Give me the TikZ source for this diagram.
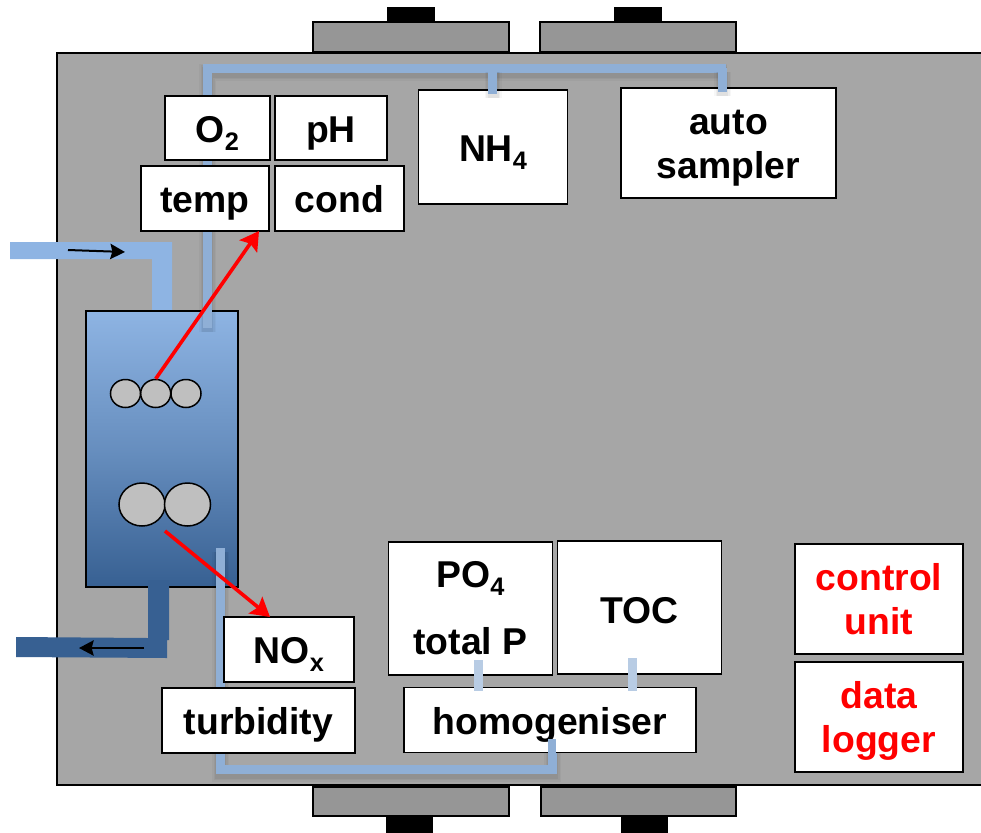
\documentclass[tikz,border=0pt]{standalone}
\usepackage{fontspec}
\setmainfont{Liberation Sans}
\usetikzlibrary{calc,arrows.meta,shapes.geometric}
\definecolor{rig}{HTML}{A6A6A6}
\definecolor{pump}{HTML}{969696}
\definecolor{bubble}{HTML}{BFBFBF}
\definecolor{inflow}{HTML}{8EB4E3}
\definecolor{outflow}{HTML}{376092}
\definecolor{tubing}{HTML}{8FAFD6}
\definecolor{feed}{HTML}{B8CCE4}
\def\px{0.75pt}
\newcommand\lowered[1]{\raisebox{-6pt}{\fontsize{19}{19}\selectfont #1}}
\tikzset{
	instrument/.style={draw=black,fill=white,line width=1.5*\px,inner sep=0pt,align=center,
		text height=25pt,text depth=4pt,font=\fontsize{28}{33}\selectfont\bfseries},
	twolines/.style={text height=57pt,text depth=4pt},
	plate/.style={draw=black,line width=1.5*\px},
	tube/.style={draw=tubing,line width=9*\px,
		preaction={draw=black,opacity=.03,line width=17*\px,transform canvas={shift={(.5pt,-3pt)}}},
		preaction={draw=black,opacity=.04,line width=14*\px,transform canvas={shift={(.5pt,-3pt)}}},
		preaction={draw=black,opacity=.05,line width=11*\px,transform canvas={shift={(.5pt,-3pt)}}}},
	flow/.style={-{Stealth[length=11pt,width=11.5pt,inset=1.5pt]},line width=1.5pt,black},
	probe/.style={-{Stealth[length=14pt,width=16pt,inset=2.5pt]},line width=2.7pt,red},
	bead/.style={draw=black,fill=bubble,line width=1.5*\px,ellipse,inner sep=0pt}
}
\begin{document}
\begin{tikzpicture}[x=0.75pt,y=-0.75pt]
	\useasboundingbox (0,0) rectangle (981,832);
	\filldraw[fill=rig,plate] (57,53) rectangle (990,785); % rig panel
	\filldraw[fill=black] (387,7) rectangle (434,22); % pump heads
	\filldraw[fill=black] (614,7) rectangle (661,22);
	\filldraw[fill=black] (386,816) rectangle (432,832);
	\filldraw[fill=black] (621,816) rectangle (667,832);
	\filldraw[fill=pump,plate] (313,22) rectangle (509,52);
	\filldraw[fill=pump,plate] (540,22) rectangle (736,52);
	\filldraw[fill=pump,plate] (313,787) rectangle (509,816);
	\filldraw[fill=pump,plate] (541,787) rectangle (736,816);
	% reactor with inlet and outlet
	\fill[inflow] (10,242) -- (172,242) -- (172,312) -- (152,312) -- (152,259) -- (10,259) -- cycle;
	\filldraw[plate,top color=inflow,bottom color=outflow,middle color=inflow!55!outflow] (86,311) rectangle (238,587);
	\fill[outflow] (148,580) -- (169,580) -- (169,640) -- (167,640) -- (167,658) -- (16,657) -- (16,637) -- (148,638) -- cycle;
	\coordinate (inStart) at (68,250);
	\coordinate (inEnd) at (125,252);
	\coordinate (outStart) at (144,648);
	\coordinate (outEnd) at (79,648);
	\draw[flow] (inStart) -- (inEnd);
	\draw[flow] (outStart) -- (outEnd);
	\node[bead,minimum width=30*\px,minimum height=28*\px] (beadA) at (125.5,393.5) {};
	\node[bead,minimum width=30*\px,minimum height=28*\px] (beadC) at (186,393.5) {};
	\node[bead,minimum width=30*\px,minimum height=28*\px] (beadB) at (155.7,393.5) {};
	\node[bead,minimum width=46*\px,minimum height=43*\px] (beadD) at (142,504.5) {};
	\node[bead,minimum width=46*\px,minimum height=43*\px] (beadE) at (187.5,504.5) {};
	% sample lines
	\coordinate (topEnd) at (207,328);
	\coordinate (topLeft) at (207,68);
	\coordinate (topRight) at (726,68);
	\coordinate (botEnd) at (220,548);
	\coordinate (botLeft) at (220,769);
	\coordinate (botRight) at (552,769);
	\draw[tube] (topEnd) -- (topLeft) -- (topRight);
	\draw[tube] (botEnd) -- (botLeft) -- (botRight) -- (552,739);
	% instruments
	\node[instrument,minimum width=105*\px,minimum height=64*\px] (oxy) at (217.5,128) {O\lowered{2}};
	\node[instrument,minimum width=112*\px,minimum height=64*\px] (ph) at (331,128) {pH};
	\node[instrument,minimum width=128*\px,minimum height=65*\px] (temp) at (205,198.5) {temp};
	\node[instrument,minimum width=129*\px,minimum height=65*\px] (cond) at (339.5,198.5) {cond};
	\node[instrument,minimum width=149*\px,minimum height=114*\px] (nh) at (493,147) {NH\lowered{4}};
	\node[instrument,twolines,minimum width=215*\px,minimum height=110*\px] (sampler) at (728.5,143) {auto\\sampler};
	\node[instrument,minimum width=130*\px,minimum height=65*\px] (nox) at (289,649.5) {NO\lowered{x}};
	\node[instrument,minimum width=193*\px,minimum height=65*\px] (turb) at (258.5,720.5) {turbidity};
	\node[instrument,twolines,text height=73pt,minimum width=164*\px,minimum height=133*\px] (phos) at (470.5,608.5) {PO\lowered{4}\\[17pt]total P};
	\node[instrument,text height=28pt,minimum width=164*\px,minimum height=133*\px] (toc) at (639.5,607.5) {TOC};
	\node[instrument,minimum width=292*\px,minimum height=65*\px] (homog) at (550,720) {homogeniser};
	\node[instrument,twolines,text=red,minimum width=168*\px,minimum height=110*\px] (ctrl) at (879,599) {control\\unit};
	\node[instrument,twolines,text=red,minimum width=168*\px,minimum height=110*\px] (logger) at (879,717) {data\\logger};
	% short connections on top of the boxes
	\draw[feed,line width=9*\px] (478,660) -- (478,691);
	\draw[feed,line width=9*\px] (632.6,658) -- (632.6,691);
	\draw[tube] (492.6,68) -- (492.6,94);
	\draw[tube] (722,68) -- (722,92);
	\draw[tubing,line width=8*\px] (552,739) -- (552,769);
	% red arrows
	\coordinate (tempIn) at (259,231);
	\coordinate (noxStart) at (165,531);
	\coordinate (noxIn) at (270,617);
	\draw[probe] (beadB.north) -- (tempIn);
	\draw[probe] (noxStart) -- (noxIn);
\end{tikzpicture}
\end{document}
